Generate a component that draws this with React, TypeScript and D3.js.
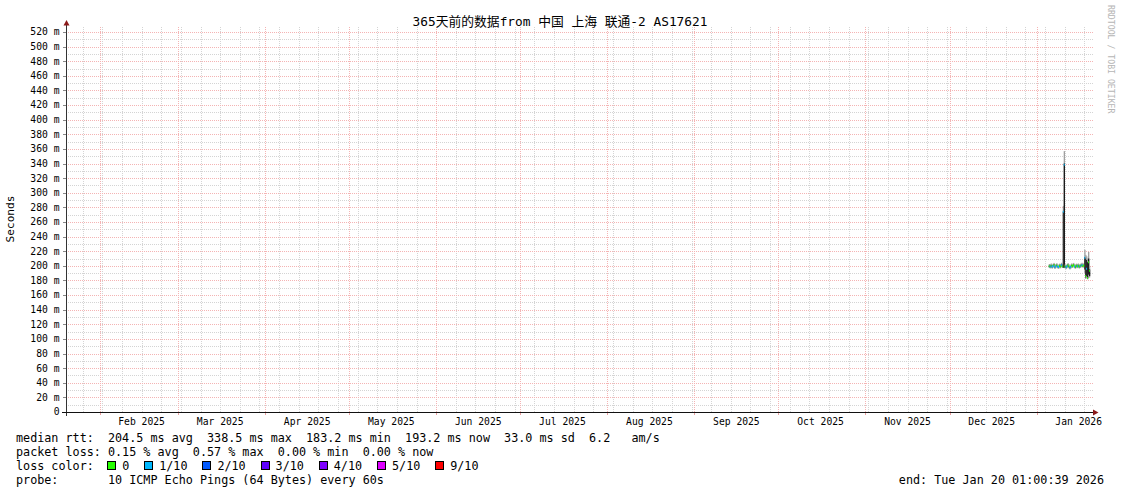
import React from 'react';
import * as d3 from 'd3';

const W = 1121;
const H = 494;
const FONT = '"DejaVu Sans Mono", "Noto Sans CJK SC", monospace';

const titleText = '365天前的数据from 中国 上海 联通-2 AS17621';
const yAxisTitle = 'Seconds';
const watermark = 'RRDTOOL / TOBI OETIKER';

const rangeStart = Date.UTC(2025, 0, 20, 1, 0, 39);
const rangeEnd = Date.UTC(2026, 0, 20, 1, 0, 39);
const yTickValues = [0, 20, 40, 60, 80, 100, 120, 140, 160, 180, 200, 220, 240, 260, 280, 300, 320, 340, 360, 380, 400, 420, 440, 460, 480, 500, 520];
const yMinorValues = [10, 30, 50, 70, 90, 110, 130, 150, 170, 190, 210, 230, 250, 270, 290, 310, 330, 350, 370, 390, 410, 430, 450, 470, 490, 510];

// samples (8h consolidation) starting 2026-01-05 08:00
const sampleStart = Date.UTC(2026, 0, 5, 8, 0, 0);
const sampleStepHours = 8;
const medianRtt = [
  199.5, 199.0, 200.2, 198.6, 199.8, 201.0, 198.2, 199.4, 200.6, 199.0,
  198.4, 200.0, 199.2, 201.2, 199.6, 274.0, 338.5, 199.0, 198.0, 199.4,
  200.8, 199.0, 197.6, 198.8, 200.4, 199.6, 201.0, 199.2, 198.6, 200.0,
  199.4, 200.2, 198.8, 199.6, 200.4, 201.2, 199.8, 200.6, 211.0, 186.0,
  196.0, 183.2, 205.0, 193.2,
];
const lossPings = [
  0, 1, 0, 1, 1, 0, 1, 1, 0, 1,
  1, 0, 0, 1, 0, 1, 1, 0, 1, 1,
  0, 0, 1, 1, 0, 0, 0, 1, 0, 0,
  1, 0, 0, 1, 0, 1, 0, 0, 1, 0,
  1, 0, 0, 0,
];
const smokeLow = [
  197.0, 196.5, 197.7, 196.1, 197.3, 198.5, 195.7, 196.9, 198.1, 196.5,
  195.9, 197.5, 196.7, 198.7, 197.1, 197.0, 197.0, 196.5, 195.5, 196.9,
  198.3, 196.5, 195.1, 196.3, 197.9, 197.1, 198.5, 196.7, 196.1, 197.5,
  196.9, 197.7, 196.3, 197.1, 197.9, 198.7, 197.3, 198.1, 190.0, 182.0,
  184.0, 181.5, 186.0, 184.0,
];
const smokeHigh = [
  202.5, 202.0, 203.2, 201.6, 202.8, 204.0, 201.2, 202.4, 203.6, 202.0,
  201.4, 203.0, 202.2, 204.2, 202.6, 282.0, 357.0, 202.0, 201.0, 202.4,
  203.8, 202.0, 200.6, 201.8, 203.4, 202.6, 204.0, 202.2, 201.6, 203.0,
  202.4, 203.2, 201.8, 202.6, 203.4, 204.2, 202.8, 203.6, 222.0, 215.0,
  213.0, 210.0, 219.0, 200.0,
];
const smokeCoreLow = [
  198.7, 198.2, 199.4, 197.8, 199.0, 200.2, 197.4, 198.6, 199.8, 198.2,
  197.6, 199.2, 198.4, 200.4, 198.8, 197.5, 197.5, 198.2, 197.2, 198.6,
  200.0, 198.2, 196.8, 198.0, 199.6, 198.8, 200.2, 198.4, 197.8, 199.2,
  198.6, 199.4, 198.0, 198.8, 199.6, 200.4, 199.0, 199.8, 195.0, 184.0,
  186.0, 183.0, 188.0, 186.0,
];
const smokeCoreHigh = [
  200.3, 199.8, 201.0, 199.4, 200.6, 201.8, 199.0, 200.2, 201.4, 199.8,
  199.2, 200.8, 200.0, 202.0, 200.4, 274.0, 340.0, 199.8, 198.8, 200.2,
  201.6, 199.8, 198.4, 199.6, 201.2, 200.4, 201.8, 200.0, 199.4, 200.8,
  200.2, 201.0, 199.6, 200.4, 201.2, 202.0, 200.6, 201.4, 212.0, 210.0,
  208.0, 205.0, 210.0, 195.0,
];

const lossLabels = ['0', '1/10', '2/10', '3/10', '4/10', '5/10', '9/10'];
const lossColors = ['#26ff00', '#00b8ff', '#0059ff', '#5e00ff', '#7e00ff', '#dd00ff', '#ff0000'];

const rttStatValues = [204.5, 338.5, 183.2, 193.2];
const statNames = ['avg', 'max', 'min', 'now'];
const rttSd = 33.0;
const amPerS = 6.2;
const lossStatValues = [0.15, 0.57, 0.0, 0.0];
const probeText = '10 ICMP Echo Pings (64 Bytes) every 60s';
const endText = 'end: Tue Jan 20 01:00:39 2026';

const X0 = 66;
const X1 = 1090;
const XG = 1093;
const Y0 = 412;
const YTOP = 32;
const CW = 7.05;
const LEG_FS = 11.75;

const nb = (s: string) => s.replace(/ /g, '\u00A0');

export default function App() {
  const x = d3.scaleUtc().domain([rangeStart, rangeEnd]).range([X0, X1]);
  const y = d3.scaleLinear().domain([0, 520]).range([Y0, YTOP]);
  const months = d3.utcMonth.range(new Date(rangeStart), new Date(rangeEnd));
  const weeks = d3.utcSunday.range(new Date(rangeStart), new Date(rangeEnd));
  const fmt = d3.utcFormat('%b %Y');
  const r = (v: number) => Math.round(v) + 0.5;

  const sampleTime = (i: number) => sampleStart + i * sampleStepHours * 3600 * 1000;

  const rttLine =
    'median rtt:  ' +
    rttStatValues.map((v, i) => `${v.toFixed(1)} ms ${statNames[i]}`).join('  ') +
    `  ${rttSd.toFixed(1)} ms sd  ${amPerS.toFixed(1)}   am/s`;
  const lossLine =
    'packet loss: ' + lossStatValues.map((v, i) => `${v.toFixed(2)} % ${statNames[i]}`).join('  ');

  let bx = 16 + 13 * CW - 0.5;
  const legendItems = lossLabels.map((lab, i) => {
    const item = { lab, color: lossColors[i], bx, tx: bx + 15 };
    bx = item.tx + lab.length * CW + 15;
    return item;
  });

  const segByColor: Record<string, string> = {};
  medianRtt.forEach((m, i) => {
    const c = lossColors[lossPings[i]];
    const xa = x(sampleTime(i));
    const xb = x(sampleTime(i + 1));
    segByColor[c] = (segByColor[c] || '') + `M${xa},${y(m)}H${xb}`;
  });

  const minorCol = '#d4d4d4';
  const majorCol = '#f4b4b4';

  return (
    <svg width={W} height={H} style={{ position: 'absolute', left: 0, top: 0, background: '#fff' }} fontFamily={FONT}>
      <rect x={0} y={0} width={W} height={H} fill="#fff" />
      {yMinorValues.map((v) => (
        <line key={'hm' + v} x1={X0} x2={XG} y1={r(y(v))} y2={r(y(v))} stroke={minorCol} strokeDasharray="1,1" shapeRendering="crispEdges" />
      ))}
      {weeks.map((d) => (
        <line key={'w' + d.getTime()} x1={r(x(d))} x2={r(x(d))} y1={27} y2={Y0} stroke={minorCol} strokeDasharray="1,1" shapeRendering="crispEdges" />
      ))}
      {yTickValues.filter((v) => v > 0).map((v) => (
        <line key={'hM' + v} x1={X0} x2={XG} y1={r(y(v))} y2={r(y(v))} stroke={majorCol} strokeDasharray="1,1" shapeRendering="crispEdges" />
      ))}
      {months.map((d) => (
        <line key={'m' + d.getTime()} x1={r(x(d))} x2={r(x(d))} y1={27} y2={Y0} stroke={majorCol} strokeDasharray="1,1" shapeRendering="crispEdges" />
      ))}
      {months.map((d) => (
        <line key={'mt' + d.getTime()} x1={r(x(d))} x2={r(x(d))} y1={Y0} y2={Y0 + 3} stroke="#e8a0a0" shapeRendering="crispEdges" />
      ))}
      {yTickValues.map((v) => (
        <line key={'yt' + v} x1={63} x2={X0} y1={r(y(v))} y2={r(y(v))} stroke="#888" shapeRendering="crispEdges" />
      ))}

      {medianRtt.map((m, i) => {
        const xa = x(sampleTime(i));
        const xb = x(sampleTime(i + 1));
        const w = Math.max(xb - xa, 1.3);
        return (
          <g key={'s' + i}>
            <rect x={xa} width={w} y={y(smokeHigh[i])} height={y(smokeLow[i]) - y(smokeHigh[i])} fill="#a0a0a0" />
            <rect x={xa} width={w} y={y(smokeCoreHigh[i])} height={y(smokeCoreLow[i]) - y(smokeCoreHigh[i])} fill="#1a1a1a" />
          </g>
        );
      })}
      {Object.keys(segByColor).map((c) => (
        <path key={c} d={segByColor[c]} stroke={c} strokeWidth={2} fill="none" />
      ))}

      <line x1={66.5} x2={66.5} y1={Y0 + 4} y2={24} stroke="#333" shapeRendering="crispEdges" />
      <path d="M63.5,25.5 L69.5,25.5 L66.5,20 Z" fill="#8b1a1a" />
      <line x1={62} x2={1094} y1={412.5} y2={412.5} stroke="#111" shapeRendering="crispEdges" />
      <path d="M1093,409.5 L1093,415.5 L1098.5,412.5 Z" fill="#8b1a1a" />

      {yTickValues.map((v) => (
        <text key={'yl' + v} x={59.5} y={y(v)} dy="0.35em" textAnchor="end" fontSize={9.7} fill="#000">
          {nb(v === 0 ? '0' : `${v} m`)}
        </text>
      ))}
      {months.map((d) => {
        const cx = x(d3.utcDay.offset(d, 15));
        if (cx > X1 + 2) return null;
        return (
          <text key={'xl' + d.getTime()} x={cx} y={425} textAnchor="middle" fontSize={9.7} fill="#000">
            {nb(fmt(d))}
          </text>
        );
      })}

      <text x={560} y={25.5} textAnchor="middle" fontSize={12.8} fill="#000">
        {nb(titleText)}
      </text>
      <text transform="translate(14,219) rotate(-90)" textAnchor="middle" fontSize={11.1} fill="#000">
        {yAxisTitle}
      </text>
      <text transform="translate(1108,5) rotate(90)" textAnchor="start" fontSize={8.2} fill="#b5b5b5">
        {nb(watermark)}
      </text>

      <g fontSize={LEG_FS} fill="#000">
        <text x={16} y={442}>{nb(rttLine)}</text>
        <text x={16} y={456}>{nb(lossLine)}</text>
        <text x={16} y={470}>{nb('loss color:')}</text>
        {legendItems.map((it) => (
          <g key={it.lab}>
            <rect x={it.bx + 0.5} y={461.5} width={8} height={8} fill={it.color} stroke="#000" strokeWidth={1} shapeRendering="crispEdges" />
            <text x={it.tx} y={470}>{it.lab}</text>
          </g>
        ))}
        <text x={16} y={484}>{nb('probe:       ' + probeText)}</text>
        <text x={1104} y={484} textAnchor="end">{nb(endText)}</text>
      </g>
    </svg>
  );
}
